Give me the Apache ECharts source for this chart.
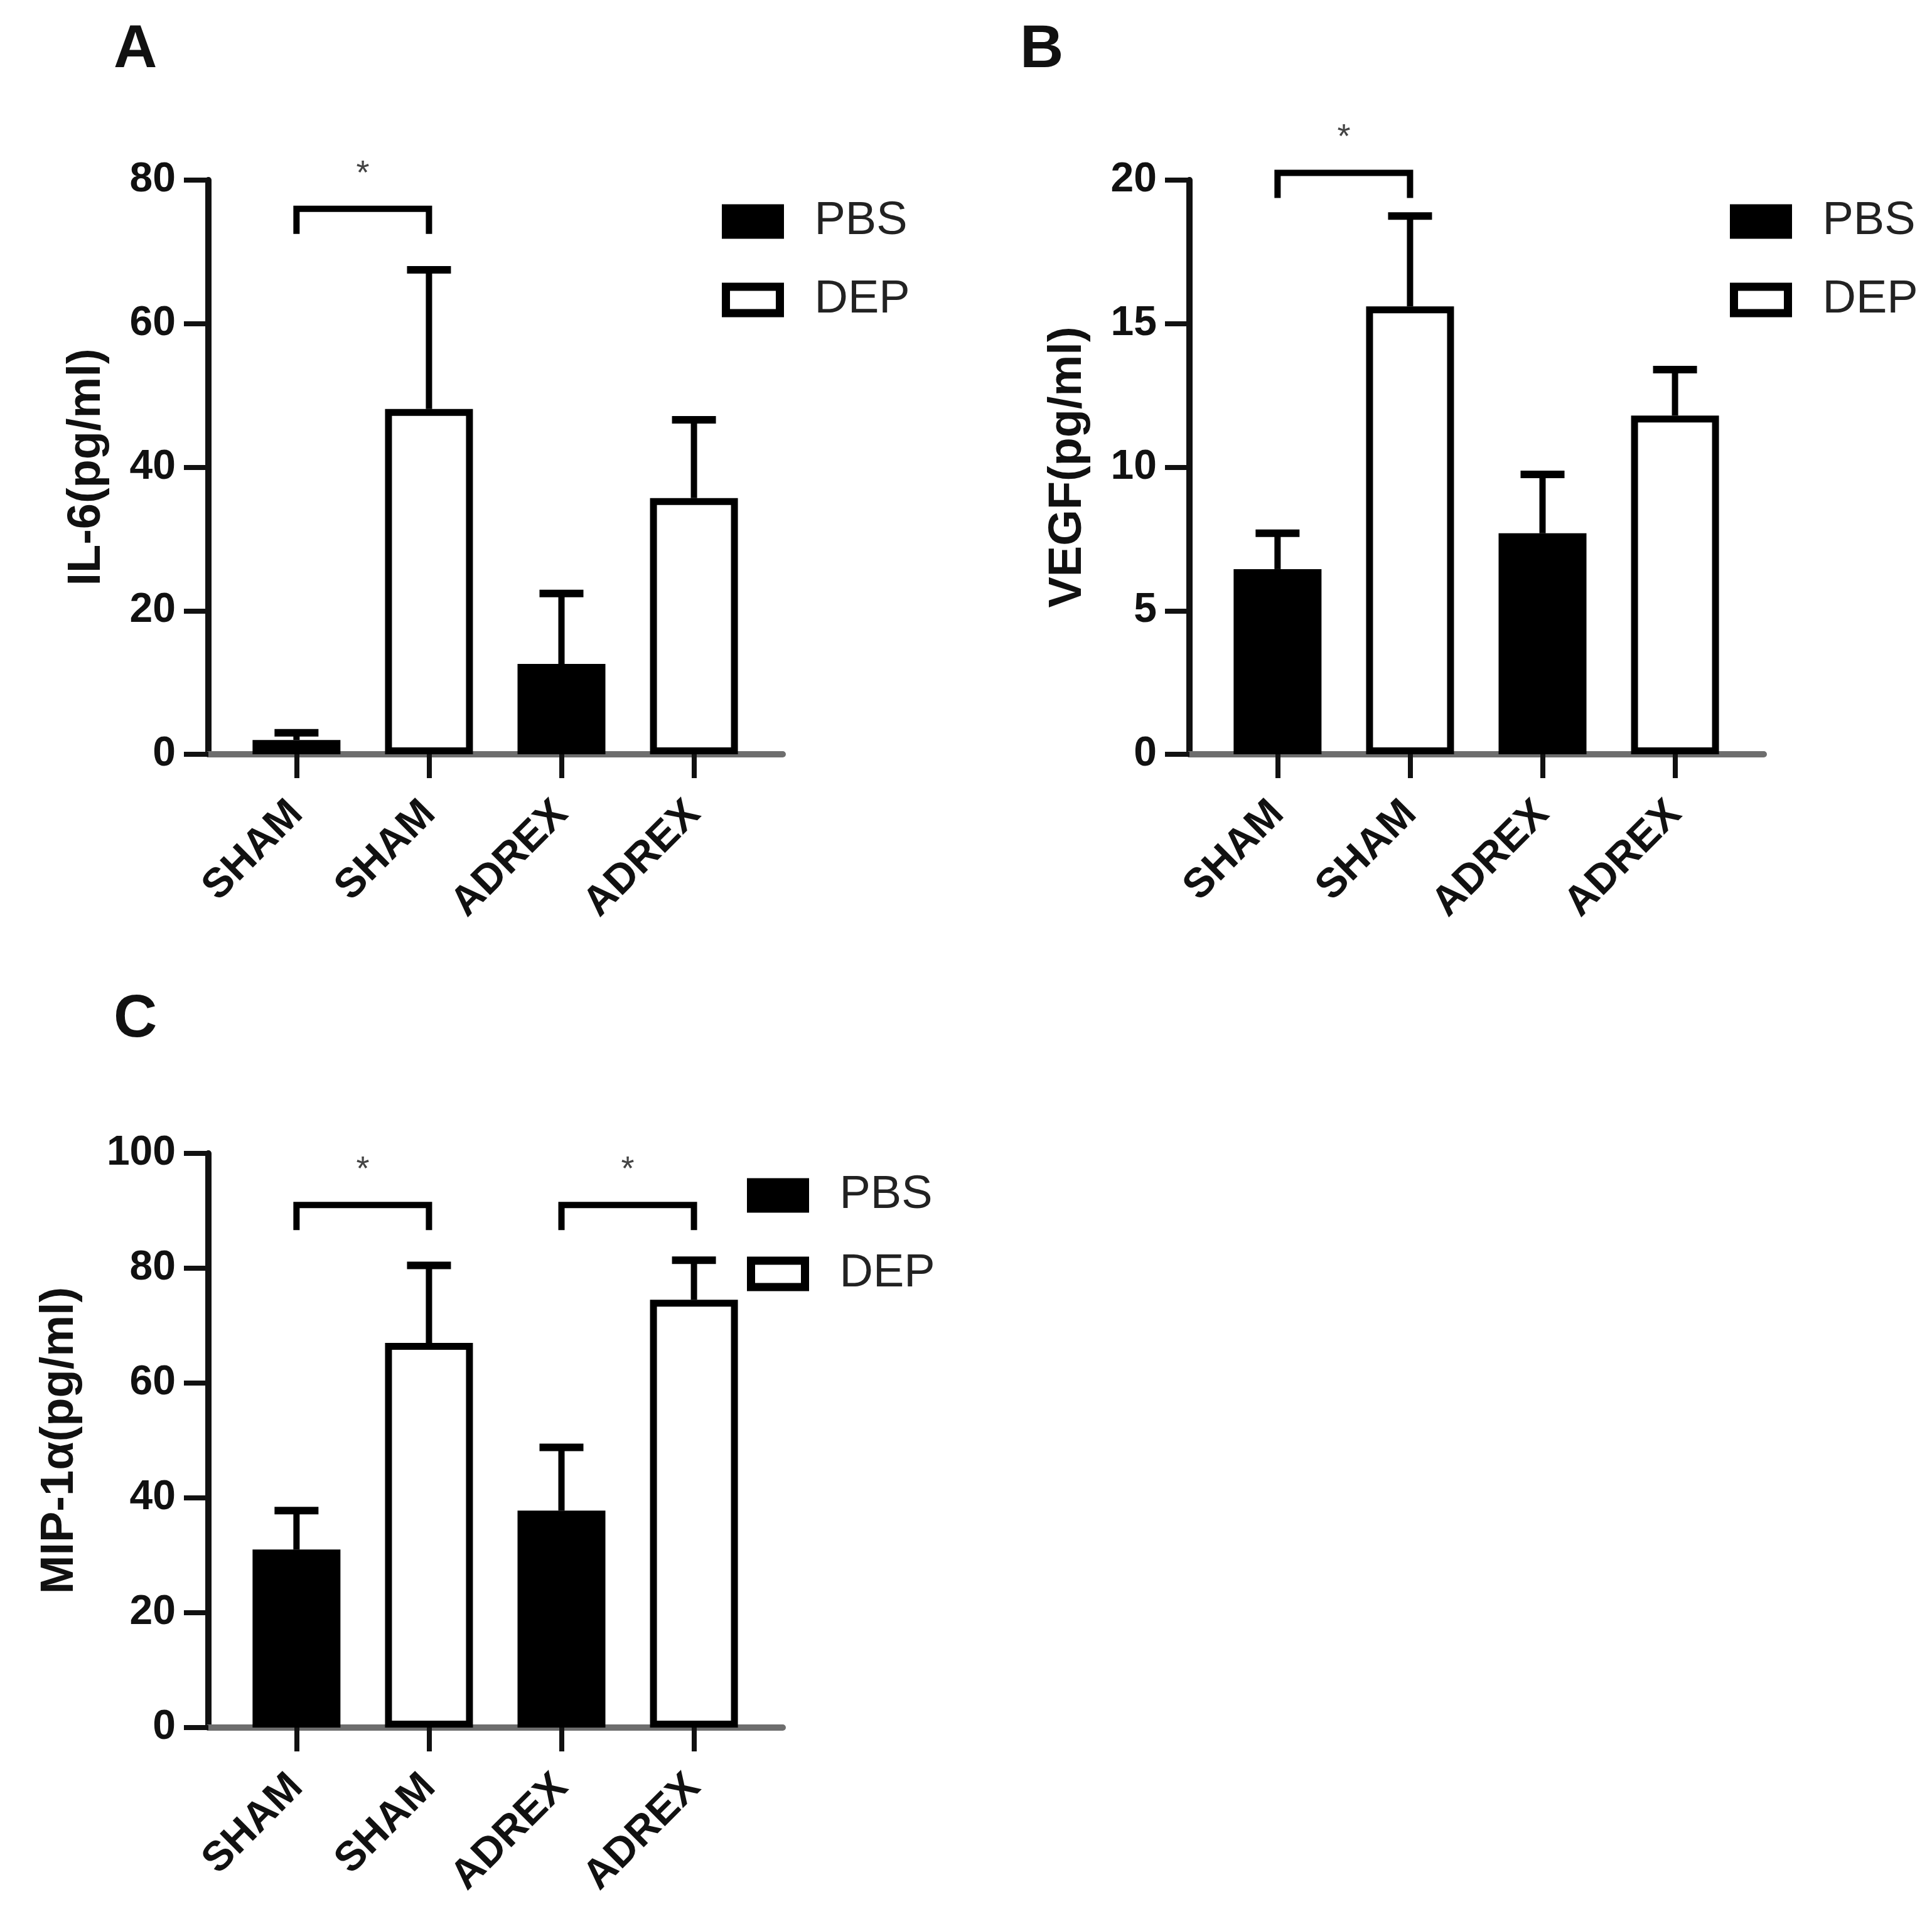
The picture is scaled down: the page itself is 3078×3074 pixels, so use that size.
<!DOCTYPE html>
<html>
<head>
<meta charset="utf-8">
<title>IL-6 / VEGF / MIP-1a</title>
<script src="https://cdn.jsdelivr.net/npm/echarts@6/dist/echarts.min.js"></script>
<style>
  html, body { margin: 0; padding: 0; background: #fff; }
  #main { width: 3078px; height: 3074px; }
</style>
</head>
<body>
<div id="main"></div>
<script>
// groups on the x axis (PBS bars sit on 0 and 2, DEP bars on 1 and 3)
var groups = ['SHAM', 'SHAM', 'ADREX', 'ADREX'];
var pbsPos = [0, 2];
var depPos = [1, 3];

// A: IL-6
var il6Pbs = [2.0, 12.6];
var il6PbsErr = [1.0, 9.8];
var il6Dep = [48.1, 35.7];
var il6DepErr = [19.4, 10.9];
var il6Ticks = [0, 20, 40, 60, 80];
var il6Sig = [[0, 1, 76]];

// B: VEGF
var vegfPbs = [6.45, 7.7];
var vegfPbsErr = [1.25, 2.05];
var vegfDep = [15.6, 11.8];
var vegfDepErr = [3.15, 1.6];
var vegfTicks = [0, 5, 10, 15, 20];
var vegfSig = [[0, 1, 20.25]];

// C: MIP-1α
var mipPbs = [31.0, 37.8];
var mipPbsErr = [6.8, 11.0];
var mipDep = [67.0, 74.5];
var mipDepErr = [13.5, 6.9];
var mipTicks = [0, 20, 40, 60, 80, 100];
var mipSig = [[0, 1, 91], [2, 3, 91]];

var FONT = '"Liberation Sans", Arial, sans-serif';

function pairs(pos, vals) {
  return pos.map(function (p, i) { return [p, vals[i]]; });
}
function errRows(pos, vals, errs) {
  return pos.map(function (p, i) { return [p, vals[i], errs[i]]; });
}

// upper error bar with a cap
function renderErr(params, api) {
  var x = api.value(0), y = api.value(1), e = api.value(2);
  var p0 = api.coord([x, y]);
  var p1 = api.coord([x, y + e]);
  return {
    type: 'group',
    children: [
      { type: 'line', shape: { x1: p0[0], y1: p0[1], x2: p1[0], y2: p1[1] }, style: { stroke: '#000', lineWidth: 10 } },
      { type: 'line', shape: { x1: p1[0] - 35, y1: p1[1], x2: p1[0] + 35, y2: p1[1] }, style: { stroke: '#000', lineWidth: 12 } }
    ]
  };
}

// significance bracket + star
function renderSig(params, api) {
  var a = api.coord([api.value(0), api.value(2)]);
  var b = api.coord([api.value(1), api.value(2)]);
  return {
    type: 'group',
    children: [
      {
        type: 'polyline',
        shape: { points: [[a[0], a[1] + 40], [a[0], a[1]], [b[0], b[1]], [b[0], b[1] + 40]] },
        style: { stroke: '#000', lineWidth: 10, fill: null, lineJoin: 'miter' }
      },
      {
        type: 'text', x: (a[0] + b[0]) / 2, y: a[1] - 55,
        style: { text: '*', fontSize: 54, fill: '#444', align: 'center', verticalAlign: 'middle', fontFamily: FONT }
      }
    ]
  };
}

function makeX(idx) {
  return {
    type: 'value', gridIndex: idx, min: -0.665, max: 3.67,
    splitLine: { show: false },
    axisLine: { show: true, lineStyle: { color: '#6e6e6e', width: 10 } },
    axisTick: { show: true, customValues: [0, 1, 2, 3], length: 38, lineStyle: { color: '#111', width: 8 } },
    axisLabel: {
      customValues: [0, 1, 2, 3], rotate: 45, margin: 85,
      fontSize: 66, fontWeight: 'bold', color: '#111', fontFamily: FONT,
      formatter: function (v) { return groups[Math.round(v)]; }
    }
  };
}

function makeY(idx, ticks, name, gap) {
  return {
    type: 'value', gridIndex: idx,
    min: ticks[0], max: ticks[ticks.length - 1], interval: ticks[1] - ticks[0],
    name: name, nameLocation: 'middle', nameGap: gap,
    nameTextStyle: { fontSize: 74, fontWeight: 'bold', color: '#111', fontFamily: FONT },
    splitLine: { show: false },
    axisLine: { show: true, onZero: false, lineStyle: { color: '#111', width: 10 } },
    axisTick: { show: true, length: 39, lineStyle: { color: '#111', width: 8 } },
    axisLabel: { margin: 52, fontSize: 66, fontWeight: 'bold', color: '#111', fontFamily: FONT }
  };
}

function makeLegend(left, top) {
  return {
    orient: 'vertical', left: left, top: top, padding: 0,
    itemWidth: 86, itemHeight: 42, itemGap: 51, icon: 'rect', selectedMode: false,
    data: [
      { name: 'PBS', itemStyle: { color: '#000', borderColor: '#000', borderWidth: 13 } },
      { name: 'DEP', itemStyle: { color: '#fff', borderColor: '#000', borderWidth: 13 } }
    ],
    textStyle: { fontSize: 74, lineHeight: 74, color: '#222', fontFamily: FONT, padding: [0, 0, 0, 50] }
  };
}

function panelSeries(idx, pbs, pbsErr, dep, depErr, sig) {
  return [
    {
      type: 'bar', name: 'PBS', xAxisIndex: idx, yAxisIndex: idx,
      data: pairs(pbsPos, pbs), barWidth: 140, barGap: '-100%',
      itemStyle: { color: '#000', borderColor: '#000', borderWidth: 10 }
    },
    {
      type: 'bar', name: 'DEP', xAxisIndex: idx, yAxisIndex: idx,
      data: pairs(depPos, dep), barWidth: 140, barGap: '-100%',
      itemStyle: { color: '#fff', borderColor: '#000', borderWidth: 11 }
    },
    {
      type: 'custom', xAxisIndex: idx, yAxisIndex: idx, z: 5, clip: false,
      data: errRows(pbsPos, pbs, pbsErr).concat(errRows(depPos, dep, depErr)),
      encode: { x: 0, y: [1, 2] }, renderItem: renderErr
    },
    {
      type: 'custom', xAxisIndex: idx, yAxisIndex: idx, z: 5, clip: false,
      data: sig, encode: { x: [0, 1], y: 2 }, renderItem: renderSig
    }
  ];
}

var chart = echarts.init(document.getElementById('main'));
chart.setOption({
  backgroundColor: '#fff',
  animation: false,
  title: [
    { text: 'A', left: 181, top: 33, padding: 0, textStyle: { fontSize: 96, fontWeight: 'bold', color: '#111', fontFamily: FONT } },
    { text: 'B', left: 1625, top: 33, padding: 0, textStyle: { fontSize: 96, fontWeight: 'bold', color: '#111', fontFamily: FONT } },
    { text: 'C', left: 181, top: 1578, padding: 0, textStyle: { fontSize: 96, fontWeight: 'bold', color: '#111', fontFamily: FONT } }
  ],
  legend: [makeLegend(1150, 316), makeLegend(2756, 316), makeLegend(1190, 1868)],
  grid: [
    { left: 332, top: 287, width: 915, height: 915, outerBoundsMode: 'none' },
    { left: 1895, top: 287, width: 915, height: 915, outerBoundsMode: 'none' },
    { left: 332, top: 1838, width: 915, height: 915, outerBoundsMode: 'none' }
  ],
  xAxis: [makeX(0), makeX(1), makeX(2)],
  yAxis: [
    makeY(0, il6Ticks, 'IL-6(pg/ml)', 156),
    makeY(1, vegfTicks, 'VEGF(pg/ml)', 156),
    makeY(2, mipTicks, 'MIP-1α(pg/ml)', 199)
  ],
  series: []
    .concat(panelSeries(0, il6Pbs, il6PbsErr, il6Dep, il6DepErr, il6Sig))
    .concat(panelSeries(1, vegfPbs, vegfPbsErr, vegfDep, vegfDepErr, vegfSig))
    .concat(panelSeries(2, mipPbs, mipPbsErr, mipDep, mipDepErr, mipSig))
});
</script>
</body>
</html>
